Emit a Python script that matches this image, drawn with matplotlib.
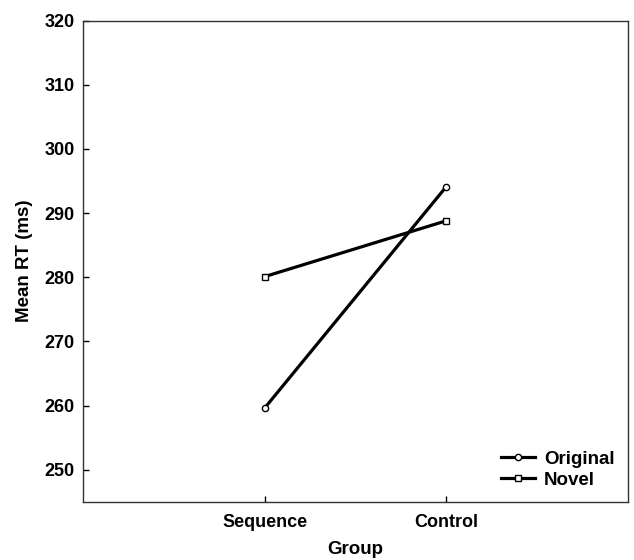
import matplotlib
matplotlib.use("Agg")
import matplotlib.pyplot as plt

groups = ["Sequence", "Control"]
original = [259.6, 294.1]
novel = [280.1, 288.8]

plt.rcParams['font.family'] = ['Liberation Sans', 'DejaVu Sans']
plt.rcParams['font.weight'] = 'bold'

fig = plt.figure(figsize=(6.34, 5.6), dpi=100)
ax = fig.add_axes([0.131, 0.104, 0.859, 0.859])

x = list(range(len(groups)))
ax.plot(x, original, color="black", lw=2.3, marker="o", ms=4.5,
        mfc="white", mec="black", mew=1, label="Original")
ax.plot(x, novel, color="black", lw=2.3, marker="s", ms=4.5,
        mfc="white", mec="black", mew=1, label="Novel")

ax.set_xlim(-1, 2)
ax.set_ylim(245, 320)
ax.set_xticks(x)
ax.set_xticklabels(groups)
ax.set_yticks(range(250, 321, 10))
ax.tick_params(direction="in", length=4, labelsize=13, width=1)
ax.tick_params(axis="x", pad=9)
ax.tick_params(axis="y", pad=6)
for lab in ax.get_xticklabels() + ax.get_yticklabels():
    lab.set_fontweight("bold")
for s in ax.spines.values():
    s.set_linewidth(1)
    s.set_color("#333333")

ax.set_xlabel("Group", fontsize=13.5, fontweight="bold", labelpad=7)
ax.set_ylabel("Mean RT (ms)", fontsize=13.5, fontweight="bold", labelpad=8)

ax.legend(loc="lower right", frameon=False, handlelength=1.8,
          handletextpad=0.5, labelspacing=0.2, borderaxespad=0.3,
          prop={"weight": "bold", "size": 13.5})

fig.savefig("out.png", dpi=100)
